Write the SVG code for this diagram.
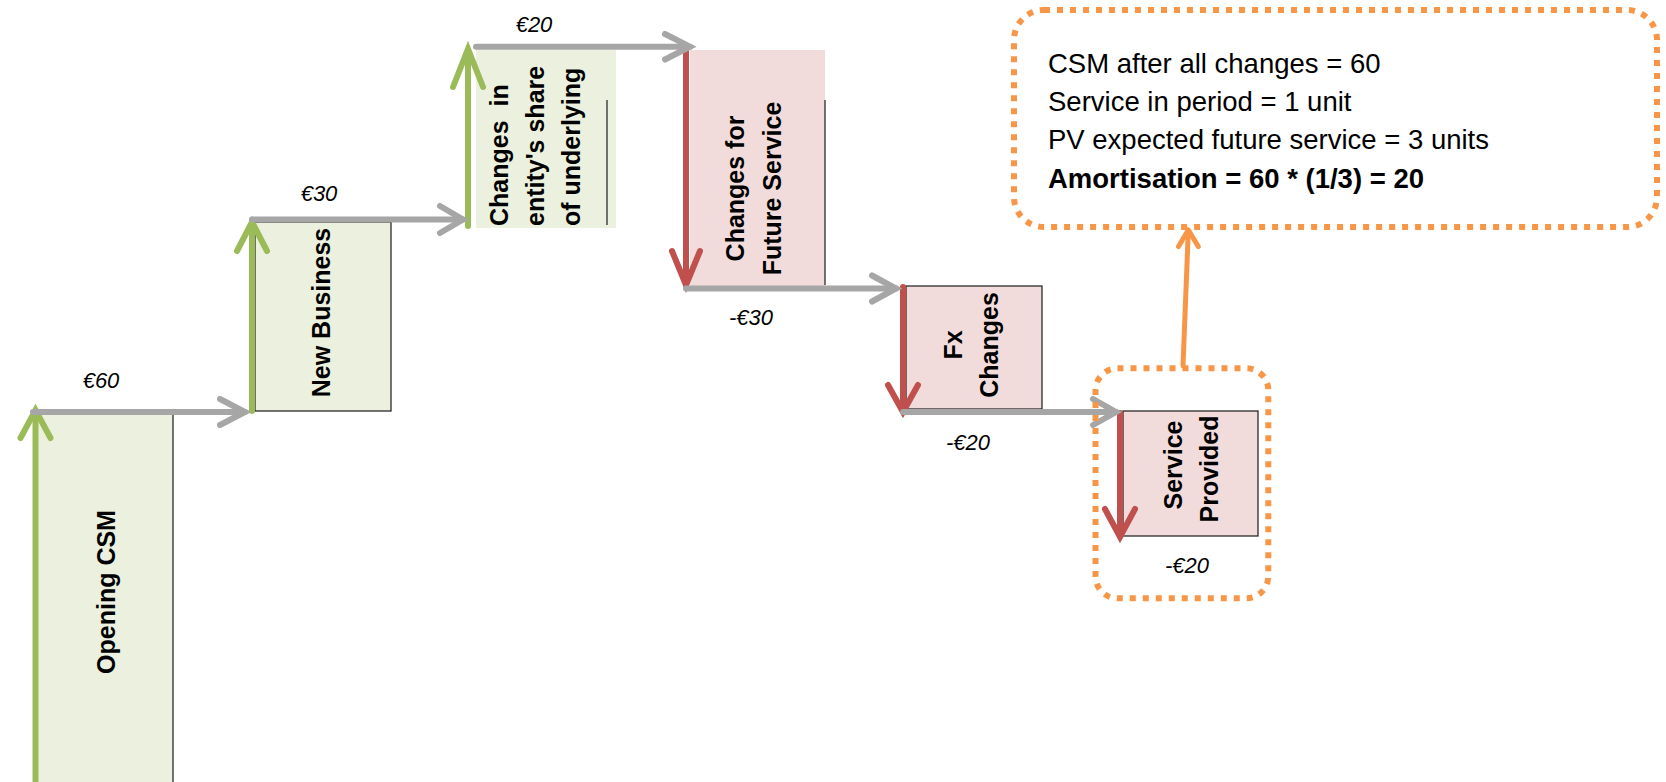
<svg xmlns="http://www.w3.org/2000/svg" width="1666" height="782" viewBox="0 0 1666 782">
<style>
.bg{fill:#ffffff}
.gfill{fill:#EBF1DE}
.pfill{fill:#F2DCDB}
.edge{stroke:#1a1a1a;stroke-width:1.2}
.edgeline{stroke:#1a1a1a;stroke-width:1.2;fill:none}
.lbl{font-family:"Liberation Sans",Arial,sans-serif;font-weight:bold;font-size:25px;fill:#000}
.val{font-family:"Liberation Sans",Arial,sans-serif;font-style:italic;font-size:22px;fill:#000;text-anchor:middle}
.note{font-family:"Liberation Sans",Arial,sans-serif;font-size:27.5px;fill:#000}
.up{stroke:#9BBB59;stroke-width:6;fill:none;stroke-linecap:round;stroke-linejoin:miter}
.down{stroke:#C0504D;stroke-width:6;fill:none;stroke-linecap:round;stroke-linejoin:miter}
.flow{stroke:#A6A6A6;stroke-width:6;fill:none;stroke-linecap:round;stroke-linejoin:miter}
.dotted{fill:none;stroke:#F79646;stroke-width:6;stroke-dasharray:6 7}
.callarrow{stroke:#F79646;stroke-width:5;fill:none;stroke-linecap:round;stroke-linejoin:round}
</style>
<rect class="bg" x="0" y="0" width="1666" height="782"/>

<g id="opening-csm">
  <rect class="gfill edge" x="36" y="414" width="137" height="380"/>
  <text class="lbl" text-anchor="middle" transform="translate(115,592) rotate(-90)">Opening CSM</text>
</g>

<g id="new-business">
  <rect class="gfill edge" x="255" y="222" width="136" height="189"/>
  <text class="lbl" text-anchor="middle" transform="translate(330,312.5) rotate(-90)">New Business</text>
</g>

<g id="changes-underlying">
  <rect class="gfill" x="476" y="50" width="140" height="178"/>
  <line class="edgeline" x1="607" y1="100" x2="607" y2="225"/>
  <text class="lbl" text-anchor="start" xml:space="preserve" style="white-space:pre" transform="translate(508,226) rotate(-90)">Changes  in</text>
  <text class="lbl" text-anchor="start" transform="translate(544,226) rotate(-90)">entity's share</text>
  <text class="lbl" text-anchor="start" transform="translate(580,226) rotate(-90)">of underlying</text>
</g>

<g id="changes-future-service">
  <rect class="pfill" x="690" y="50" width="135" height="236"/>
  <line class="edgeline" x1="825" y1="100" x2="825" y2="285"/>
  <text class="lbl" text-anchor="middle" transform="translate(744,188.5) rotate(-90)">Changes for</text>
  <text class="lbl" text-anchor="middle" transform="translate(781,188.5) rotate(-90)">Future Service</text>
</g>

<g id="fx-changes">
  <rect class="pfill edge" x="906" y="286" width="136" height="123"/>
  <text class="lbl" text-anchor="middle" transform="translate(961.5,345) rotate(-90)">Fx</text>
  <text class="lbl" text-anchor="middle" transform="translate(997.5,345) rotate(-90)">Changes</text>
</g>

<g id="service-provided">
  <rect class="pfill edge" x="1123" y="411" width="135" height="125"/>
  <text class="lbl" text-anchor="middle" transform="translate(1181.5,465) rotate(-90)">Service</text>
  <text class="lbl" text-anchor="middle" transform="translate(1218,469) rotate(-90)">Provided</text>
</g>

<g id="connectors">
  <g id="up-1"><path class="up" d="M35.5,782 V411"/><path class="up" d="M20.5,438 L35.5,410 L50.5,438"/></g>
  <g id="up-2"><path class="up" d="M252,411 V222"/><path class="up" d="M237,251 L252,222 L267,251"/></g>
  <g id="up-3"><path class="up" d="M468,226 V50"/><path class="up" d="M453,87 L468,49 L483,87"/></g>
  <g id="down-4"><path class="down" d="M686,48 V284"/><path class="down" d="M672,251 L686,285 L700,251"/></g>
  <g id="down-5"><path class="down" d="M903,287 V411"/><path class="down" d="M888,385 L903,412 L918,385"/></g>
  <g id="down-6"><path class="down" d="M1120,413 V536"/><path class="down" d="M1105,509 L1120,537 L1135,509"/></g>

  <g id="flow-1"><path class="flow" d="M33,412 H245"/><path class="flow" d="M220,399 L245,412 L220,425"/></g>
  <g id="flow-2"><path class="flow" d="M252,219.5 H463"/><path class="flow" d="M440,206 L463,219.5 L440,233"/></g>
  <g id="flow-3"><path class="flow" d="M476,46.7 H690"/><path class="flow" d="M665,34 L690,46.7 L665,59.5"/></g>
  <g id="flow-4"><path class="flow" d="M686,288.5 H896"/><path class="flow" d="M872,275.5 L896,288.5 L872,301.5"/></g>
  <g id="flow-5"><path class="flow" d="M903,412 H1116"/><path class="flow" d="M1093,399 L1116,412 L1093,425"/></g>

  <g id="callout-link"><path class="callarrow" d="M1183,366 L1188.3,231"/><path class="callarrow" d="M1178.5,246.5 L1188.3,230 L1198.3,246.5"/></g>
</g>

<g id="values">
  <text class="val" x="101" y="388">€60</text>
  <text class="val" x="319" y="200.5">€30</text>
  <text class="val" x="534" y="32.3">€20</text>
  <text class="val" x="751" y="325">-€30</text>
  <text class="val" x="968" y="450">-€20</text>
  <text class="val" x="1187" y="573">-€20</text>
</g>

<g id="service-highlight">
  <rect class="dotted" x="1095.5" y="368.3" width="172.8" height="230" rx="22"/>
</g>

<g id="amortisation-note">
  <rect class="dotted" x="1014" y="10" width="643" height="217" rx="30"/>
  <text class="note" x="1048" y="73">CSM after all changes = 60</text>
  <text class="note" x="1048" y="111">Service in period = 1 unit</text>
  <text class="note" x="1048" y="149">PV expected future service = 3 units</text>
  <text class="note" x="1048" y="187.5" font-weight="bold">Amortisation = 60 * (1/3) = 20</text>
</g>
</svg>
